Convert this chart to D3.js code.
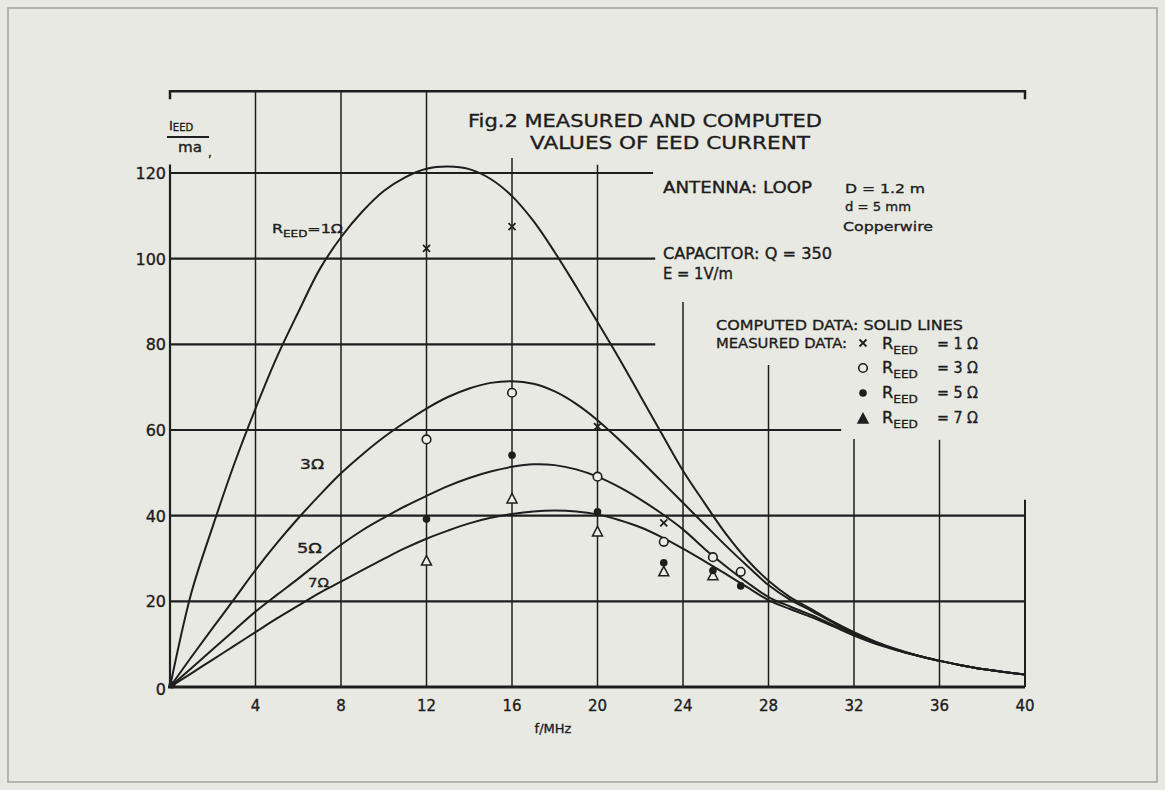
<!DOCTYPE html>
<html>
<head>
<meta charset="utf-8">
<script src="https://cdn.jsdelivr.net/npm/d3@7"></script>
<style>
  html, body { margin: 0; padding: 0; background: #e9e9e3; }
  svg { display: block; }
  text { font-family: "DejaVu Sans", "Liberation Sans", sans-serif; fill: #1d1d1d;
         stroke: #1d1d1d; stroke-width: 0.35px; }
</style>
</head>
<body>
<svg id="chart" width="1165" height="790"></svg>
<script>
// Frequency grid (MHz) for the computed curves
const fMHz = [0,1,2,3,4,5,6,7,8,9,10,11,12,13,14,15,16,17,18,19,20,
              21,22,23,24,25,26,27,28,29,30,31,32,33,34,35,36,37,38,39,40];

// Computed EED current (mA) for R_EED = 1, 3, 5, 7 ohm
const iR1 = [0,22,37.5,52,65,77,87.5,97.5,105,111,115.8,119,121,121.5,120.9,118.6,114.6,108.8,101.5,93.5,85.2,
             76.8,68,59.2,50.5,43,35.8,29.7,24.8,21,18.2,15.3,12.8,10.6,8.8,7.3,6.1,5.1,4.2,3.5,2.9];
const iR3 = [0,7,13.8,20.5,27.3,33.6,39.4,44.8,49.9,54.3,58.3,61.8,65,67.7,69.7,71,71.4,70.8,69,66.1,62.3,
             57.8,53,48,43,38,33,28.3,23.8,20.4,17.8,15.1,12.6,10.5,8.7,7.3,6.1,5.1,4.2,3.5,2.9];
const iR5 = [0,4.4,8.8,13.2,17.6,21.5,25.3,29.3,33.2,36.6,39.5,42.2,44.6,46.9,48.8,50.3,51.4,52,51.8,50.8,49.1,
             46.7,43.8,40.5,36.8,32.3,28.2,24.4,21,18.8,16.8,14.5,12.3,10.3,8.6,7.3,6.1,5.1,4.2,3.5,2.9];
const iR7 = [0,3.2,6.4,9.6,12.8,16,19,22,24.6,27.3,29.9,32.4,34.6,36.5,38.2,39.5,40.4,41,41.2,41,40.3,
             39,37.3,35,32.3,29.4,26.4,23.3,20.3,18.2,16.3,14.2,12,10.1,8.6,7.3,6.1,5.1,4.2,3.5,2.9];

// Measured data points
const crossF  = [12, 16, 20, 23.1];
const crossI  = [102.4, 107.5, 60.8, 38.3];
const circleF = [12, 16, 20, 23.1, 25.4, 26.7];
const circleI = [57.8, 68.7, 49.1, 33.9, 30.3, 26.9];
const dotF    = [12, 16, 20, 23.1, 25.4, 26.7];
const dotI    = [39.2, 54.1, 40.9, 29.0, 27.2, 23.6];
const triF    = [12, 16, 20, 23.1, 25.4];
const triI    = [29.4, 43.9, 36.2, 26.9, 26.0];

// Axis ticks
const xTicks = [4, 8, 12, 16, 20, 24, 28, 32, 36, 40];
const xTickLabels = ["4", "8", "12", "16", "20", "24", "28", "32", "36", "40"];
const yTicks = [0, 20, 40, 60, 80, 100, 120];
const yTickLabels = ["0", "20", "40", "60", "80", "100", "120"];

const svg = d3.select("#chart");
const ink = "#1e1e1e";

const x = d3.scaleLinear().domain([0, 40]).range([170, 1025]);
const y = d3.scaleLinear().domain([0, 120]).range([687, 173]);

// page border
svg.append("rect")
  .attr("x", 8).attr("y", 8).attr("width", 1149).attr("height", 774)
  .attr("fill", "none").attr("stroke", "#a3a39e").attr("stroke-width", 1.5);

const grid = svg.append("g").attr("stroke", ink).attr("fill", "none");

// horizontal grid lines (some stop short where the notes are lettered)
const hEnd = {20: 40, 40: 40, 60: 31.4, 80: 22.7, 100: 22.7, 120: 22.6};
[20, 40, 60, 80, 100, 120].forEach(v => {
  grid.append("line")
    .attr("x1", x(0)).attr("x2", x(hEnd[v]))
    .attr("y1", y(v)).attr("y2", y(v))
    .attr("stroke-width", 2.2);
});

// vertical grid lines (tops trimmed below the lettering)
const vTop = {4: 139.1, 8: 139.1, 12: 139.1, 16: 123.5, 20: 121.9, 24: 89.9, 28: 75.2, 32: 57.9, 36: 57.7, 40: 43.7};
xTicks.forEach(f => {
  grid.append("line")
    .attr("x1", x(f)).attr("x2", x(f))
    .attr("y1", y(vTop[f])).attr("y2", y(0))
    .attr("stroke-width", f === 40 ? 2 : 1.5);
});

// top frame line with end ticks
const yTop = y(139.1);
grid.append("path")
  .attr("d", `M${x(0)},${yTop + 8} L${x(0)},${yTop} L${x(40)},${yTop} L${x(40)},${yTop + 8}`)
  .attr("stroke-width", 2.5);

// left axis and baseline
grid.append("line")
  .attr("x1", x(0)).attr("x2", x(0)).attr("y1", y(122)).attr("y2", y(0))
  .attr("stroke-width", 2.2);
grid.append("line")
  .attr("x1", x(0) - 2).attr("x2", x(40)).attr("y1", y(0)).attr("y2", y(0))
  .attr("stroke-width", 3.2);

// computed curves
const line = d3.line()
  .x((d, i) => x(fMHz[i]))
  .y(d => y(d))
  .curve(d3.curveCatmullRom.alpha(0.5));

[iR1, iR3, iR5, iR7].forEach(series => {
  svg.append("path")
    .attr("d", line(series))
    .attr("fill", "none").attr("stroke", ink).attr("stroke-width", 2);
});

// origin blob
svg.append("circle").attr("cx", x(0) + 2).attr("cy", y(0) - 2).attr("r", 3.5).attr("fill", ink);

// measured markers
const mk = svg.append("g");
function crossAt(g, cx, cy, s) {
  g.append("path")
    .attr("d", `M${cx - s},${cy - s} L${cx + s},${cy + s} M${cx - s},${cy + s} L${cx + s},${cy - s}`)
    .attr("stroke", ink).attr("stroke-width", 1.8).attr("fill", "none");
}
function circleAt(g, cx, cy) {
  g.append("circle").attr("cx", cx).attr("cy", cy).attr("r", 4.3)
    .attr("fill", "#eeeee8").attr("stroke", ink).attr("stroke-width", 1.6);
}
function dotAt(g, cx, cy) {
  g.append("circle").attr("cx", cx).attr("cy", cy).attr("r", 3.8).attr("fill", ink);
}
function triAt(g, cx, cy, filled) {
  g.append("path")
    .attr("d", `M${cx},${cy - 5.5} L${cx + 5},${cy + 4} L${cx - 5},${cy + 4} Z`)
    .attr("fill", filled ? ink : "#eeeee8").attr("stroke", ink).attr("stroke-width", 1.5);
}
crossF.forEach((f, i) => crossAt(mk, x(f), y(crossI[i]), 3.5));
circleF.forEach((f, i) => circleAt(mk, x(f), y(circleI[i])));
triF.forEach((f, i) => triAt(mk, x(f), y(triI[i]), false));
dotF.forEach((f, i) => dotAt(mk, x(f), y(dotI[i])));

// tick labels
const lbl = svg.append("g");
yTicks.forEach((v, i) => {
  lbl.append("text")
    .attr("x", 166).attr("y", y(v) + (v === 0 ? 8 : 6))
    .attr("text-anchor", "end").attr("font-size", 16)
    .text(yTickLabels[i]);
});
xTicks.forEach((f, i) => {
  lbl.append("text")
    .attr("x", x(f)).attr("y", 711)
    .attr("text-anchor", "middle").attr("font-size", 15)
    .text(xTickLabels[i]);
});
lbl.append("text").attr("x", 553).attr("y", 733)
  .attr("text-anchor", "middle").attr("font-size", 13).text("f/MHz");

// text helper: optional fixed length to keep the spread of the lettering
function txt(px, py, str, size, len) {
  const t = svg.append("text").attr("x", px).attr("y", py).attr("font-size", size).text(str);
  if (len) t.attr("textLength", len).attr("lengthAdjust", "spacingAndGlyphs");
  return t;
}
// R with subscript EED followed by a tail
function rEED(px, py, size, tail, len) {
  const t = svg.append("text").attr("x", px).attr("y", py).attr("font-size", size);
  t.append("tspan").text("R");
  t.append("tspan").attr("font-size", size * 0.75).attr("dy", size * 0.3).text("EED");
  t.append("tspan").attr("dy", -size * 0.3).text(tail);
  if (len) t.attr("textLength", len).attr("lengthAdjust", "spacingAndGlyphs");
  return t;
}

// y-axis quantity
const yl = svg.append("text").attr("x", 169).attr("y", 130).attr("font-size", 13);
yl.append("tspan").text("I");
yl.append("tspan").attr("font-size", 10).attr("dy", 1).text("EED");
svg.append("line").attr("x1", 167).attr("x2", 209).attr("y1", 137).attr("y2", 137)
  .attr("stroke", ink).attr("stroke-width", 1.8);
txt(178, 152, "ma", 14, 24);
txt(208, 157, ",", 12);

// title
txt(468, 127, "Fig.2 MEASURED AND COMPUTED", 18, 354);
txt(530, 149, "VALUES OF EED CURRENT", 18, 280);

// antenna and capacitor notes
txt(663, 193, "ANTENNA: LOOP", 15, 149);
txt(845, 193, "D = 1.2 m", 13, 80);
txt(845, 211, "d = 5 mm", 13, 66);
txt(843, 231, "Copperwire", 13, 90);
txt(663, 259, "CAPACITOR: Q = 350", 15, 169);
txt(663, 279, "E = 1V/m", 15, 70);

// legend
txt(716, 330, "COMPUTED DATA: SOLID LINES", 14, 247);
txt(716, 348, "MEASURED DATA:", 14, 131);
crossAt(svg, 863, 343, 3.5);
rEED(882, 349, 15, "", 36);
txt(937, 349, "= 1 Ω", 15, 41);
circleAt(svg, 863, 368);
rEED(882, 373, 15, "", 36);
txt(937, 373, "= 3 Ω", 15, 41);
dotAt(svg, 863, 393);
rEED(882, 398, 15, "", 36);
txt(937, 398, "= 5 Ω", 15, 41);
triAt(svg, 863, 419, true);
rEED(882, 423, 15, "", 36);
txt(937, 423, "= 7 Ω", 15, 41);

// curve labels
rEED(272, 233, 12, "=1Ω", 71);
txt(300, 469, "3Ω", 14, 24);
txt(297, 553, "5Ω", 14, 25);
txt(308, 587, "7Ω", 13, 21);
</script>
</body>
</html>
